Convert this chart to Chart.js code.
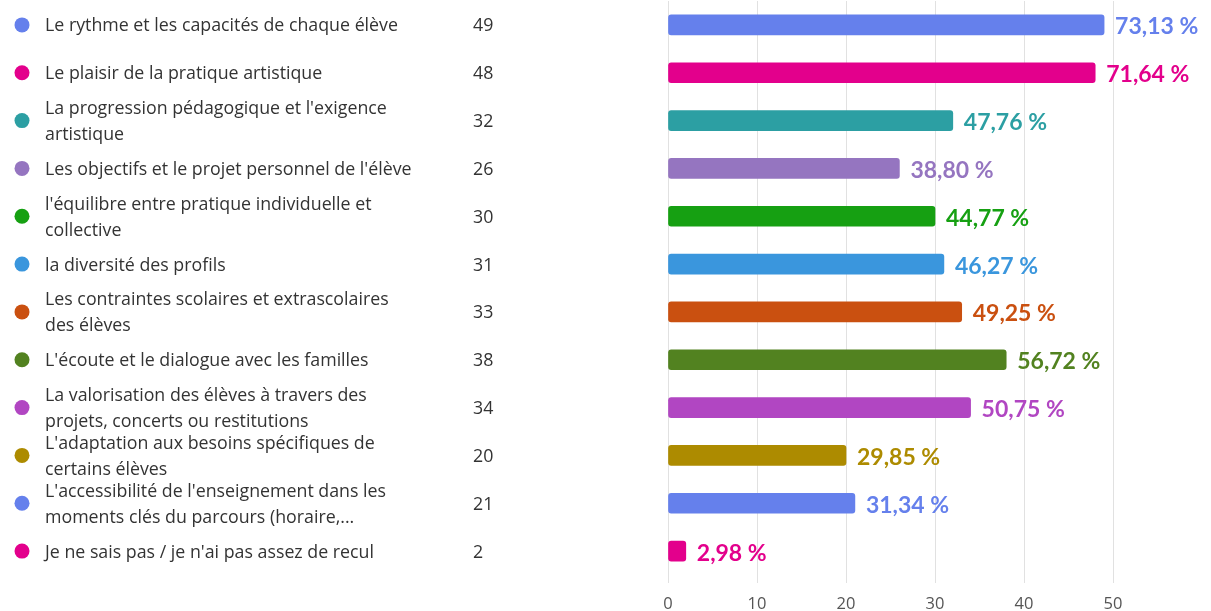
<!DOCTYPE html>
<html>
<head>
<meta charset="utf-8">
<script src="https://cdn.jsdelivr.net/npm/chart.js@4/dist/chart.umd.min.js"></script>
<style>
  html, body { margin: 0; padding: 0; background: #fff; }
  #wrap { width: 1211px; height: 611px; }
</style>
</head>
<body>
<div id="wrap"><canvas id="answersChart"></canvas></div>
<script>
// Réponses (plusieurs choix possibles) - 67 répondants
const answers = [
    ['Le rythme et les capacités de chaque élève'],
    ['Le plaisir de la pratique artistique'],
    ['La progression pédagogique et l\'exigence', 'artistique'],
    ['Les objectifs et le projet personnel de l\'élève'],
    ['l\'équilibre entre pratique individuelle et', 'collective'],
    ['la diversité des profils'],
    ['Les contraintes scolaires et extrascolaires', 'des élèves'],
    ['L\'écoute et le dialogue avec les familles'],
    ['La valorisation des élèves à travers des', 'projets, concerts ou restitutions'],
    ['L\'adaptation aux besoins spécifiques de', 'certains élèves'],
    ['L\'accessibilité de l\'enseignement dans les', 'moments clés du parcours (horaire,...'],
    ['Je ne sais pas / je n\'ai pas assez de recul']
];
const counts = [49, 48, 32, 26, 30, 31, 33, 38, 34, 20, 21, 2];
const percents = ['73,13 %', '71,64 %', '47,76 %', '38,80 %', '44,77 %', '46,27 %',
                  '49,25 %', '56,72 %', '50,75 %', '29,85 %', '31,34 %', '2,98 %'];
const colors = ['#6580EC', '#E3008C', '#2C9FA3', '#9575C0', '#16A012', '#3A96DD',
                '#CA5010', '#528220', '#B146C2', '#AD8B00', '#6580EC', '#E3008C'];
const xTicks = [0, 10, 20, 30, 40, 50];

// tableau à gauche : pastille, libellé, nombre de réponses
const answerTable = {
    id: 'answerTable',
    afterDraw(chart) {
        const c = chart.ctx;
        const y = chart.scales.y;
        c.save();
        c.textBaseline = 'middle';
        answers.forEach((lines, i) => {
            const cy = y.getPixelForValue(i);
            c.fillStyle = colors[i];
            c.beginPath();
            c.arc(22, cy, 7.5, 0, Math.PI * 2);
            c.fill();
            c.fillStyle = '#333';
            c.font = '17.8px "Open Sans", sans-serif';
            c.textAlign = 'left';
            const lh = 26;
            lines.forEach((t, k) => {
                c.fillText(t, 45, cy + 1.5 + (k - (lines.length - 1) / 2) * lh);
            });
            c.fillText(String(counts[i]), 473, cy + 1.5);
        });
        c.restore();
    }
};

// pourcentage à droite de chaque barre
const barValues = {
    id: 'barValues',
    afterDatasetsDraw(chart) {
        const c = chart.ctx;
        const meta = chart.getDatasetMeta(0);
        c.save();
        c.font = 'bold 23px Lato, sans-serif';
        c.textBaseline = 'middle';
        c.textAlign = 'left';
        meta.data.forEach((bar, i) => {
            c.fillStyle = colors[i];
            c.fillText(percents[i], bar.x + 11, bar.y + 2);
        });
        c.restore();
    }
};

const ctx = document.getElementById('answersChart').getContext('2d');
const answersChart = new Chart(ctx, {
    type: 'bar',
    data: {
        labels: answers,
        datasets: [{
            data: counts,
            backgroundColor: colors,
            borderRadius: 3,
            borderSkipped: false,
            barThickness: 20
        }]
    },
    options: {
        indexAxis: 'y',
        responsive: true,
        maintainAspectRatio: false,
        animation: false,
        layout: { padding: { left: 668, right: 98, top: 1, bottom: 0 } },
        plugins: { legend: { display: false }, tooltip: { enabled: false } },
        scales: {
            y: { display: false },
            x: {
                min: 0,
                max: 50,
                afterBuildTicks(scale) { scale.ticks = xTicks.map(v => ({ value: v })); },
                afterFit(scale) { scale.height = 36; },
                grid: { color: '#e1e1e1', lineWidth: 1, tickLength: 8 },
                border: { display: false },
                ticks: {
                    color: '#555',
                    padding: 11,
                    font: { family: '"Open Sans", sans-serif', size: 16.5 }
                }
            }
        }
    },
    plugins: [answerTable, barValues]
});
</script>
</body>
</html>
